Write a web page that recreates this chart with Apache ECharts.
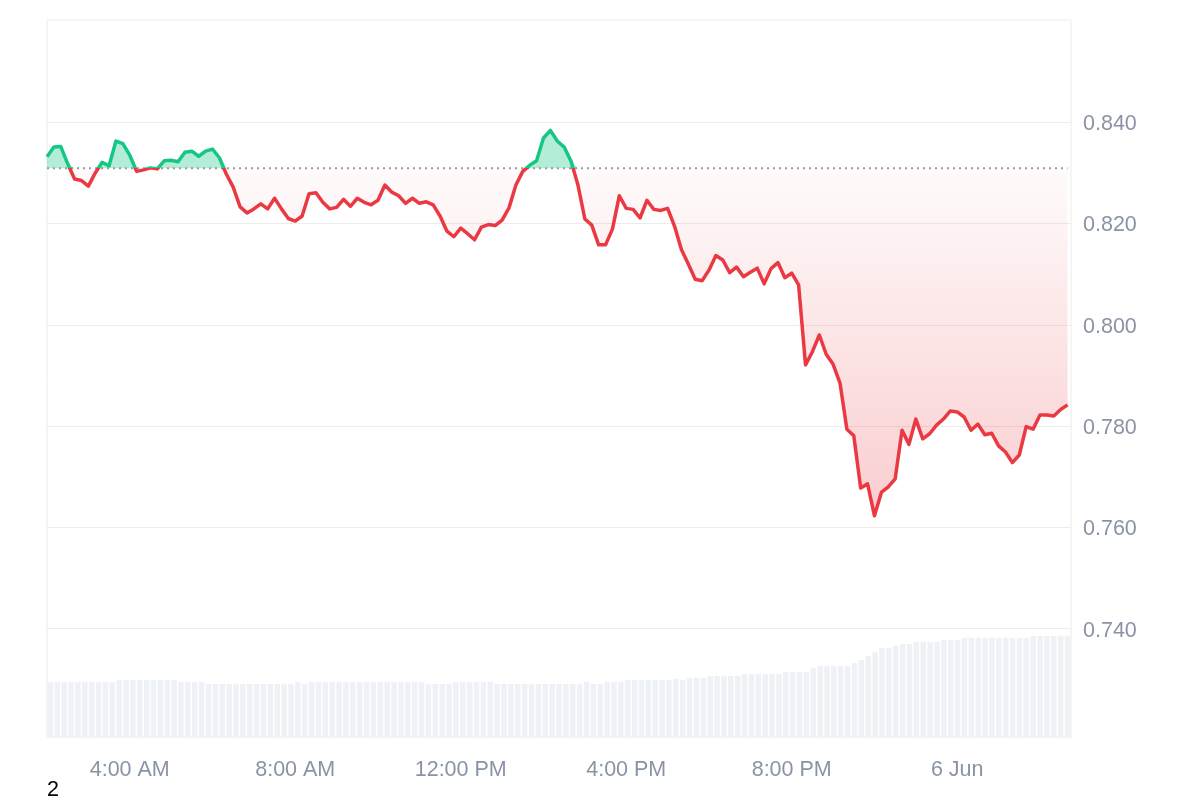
<!DOCTYPE html>
<html><head><meta charset="utf-8">
<script src="https://cdn.jsdelivr.net/npm/echarts@6/dist/echarts.min.js"></script>
<style>html,body{margin:0;padding:0;background:#fff}#c{width:1200px;height:800px}</style>
</head><body><div id="c"></div>
<script>
// time: hours since 00:00 on 5 Jun, one sample every 10 minutes starting 02:00
const startHour = 2;
const stepMinutes = 10;
const baseline = 0.8309;

const prices = [
0.8332,0.8351,0.8352,0.8318,0.8288,0.8285,0.8274,0.8300,0.8321,0.8314,
0.8363,0.8358,0.8335,0.8303,0.8306,0.8310,0.8308,0.8324,0.8325,0.8322,
0.8341,0.8343,0.8333,0.8343,0.8347,0.8330,0.8298,0.8272,0.8233,0.8221,
0.8229,0.8239,0.8229,0.8250,0.8229,0.8210,0.8205,0.8215,0.8259,0.8261,
0.8242,0.8229,0.8232,0.8248,0.8234,0.8250,0.8242,0.8237,0.8246,0.8276,
0.8262,0.8255,0.8240,0.8250,0.8240,0.8243,0.8237,0.8215,0.8185,0.8174,
0.8191,0.8180,0.8168,0.8193,0.8198,0.8196,0.8207,0.8231,0.8276,0.8303,
0.8315,0.8324,0.8369,0.8384,0.8363,0.8351,0.8323,0.8276,0.8209,0.8197,
0.8158,0.8158,0.8189,0.8255,0.8230,0.8228,0.8211,0.8246,0.8228,0.8226,
0.8230,0.8195,0.8149,0.8120,0.8090,0.8087,0.8108,0.8137,0.8128,0.8103,
0.8114,0.8095,0.8104,0.8112,0.8081,0.8111,0.8123,0.8093,0.8102,0.8079,
0.7921,0.7947,0.7980,0.7942,0.7922,0.7885,0.7794,0.7781,0.7678,0.7686,
0.7623,0.7669,0.7680,0.7696,0.7792,0.7764,0.7814,0.7775,0.7785,0.7802,
0.7814,0.7830,0.7828,0.7818,0.7792,0.7804,0.7783,0.7786,0.7761,0.7749,
0.7728,0.7743,0.7799,0.7794,0.7822,0.7822,0.7820,0.7833,0.7842
];

const volumes = [
5.5,5.5,5.5,5.5,5.5,5.5,5.5,5.5,5.5,5.5,
5.7,5.7,5.7,5.7,5.7,5.7,5.7,5.7,5.7,
5.5,5.5,5.5,5.5,
5.3,5.3,5.3,5.3,5.3,5.3,5.3,5.3,5.3,5.3,5.3,5.3,5.3,
5.5,5.3,
5.5,5.5,5.5,5.5,5.5,5.5,5.5,5.5,5.5,5.5,5.5,5.5,5.5,5.5,5.5,5.5,5.5,
5.3,5.3,5.3,5.3,
5.5,5.5,5.5,5.5,5.5,5.5,
5.3,5.3,5.3,5.3,5.3,5.3,5.3,5.3,5.3,5.3,5.3,5.3,5.3,
5.5,5.3,5.3,
5.5,5.5,5.5,
5.7,5.7,5.7,5.7,5.7,5.7,5.7,
5.8,5.7,
5.9,5.9,5.9,
6.1,6.1,6.1,6.1,6.1,
6.3,6.3,6.3,6.3,6.3,6.3,
6.5,6.5,6.5,6.5,
6.9,
7.1,7.1,7.1,7.1,7.1,
7.4,7.7,8.1,8.5,
8.9,8.9,
9.1,
9.3,9.3,
9.5,9.5,9.5,9.5,
9.7,9.7,9.7,
9.9,9.9,9.9,9.9,9.9,9.9,9.9,9.9,9.9,9.9,
10.1,10.1,10.1,10.1,10.1,10.1
];

const xTickHours = [4, 8, 12, 16, 20, 24];
const xTickLabels = ['4:00 AM', '8:00 AM', '12:00 PM', '4:00 PM', '8:00 PM', '6 Jun'];
const yMin = 0.72, yMax = 0.86, yStep = 0.02;
const xMin = 2, xMax = 26.75;

const GREEN = '#16c784', RED = '#ea3943';
const LABEL = '#8a93a6';
const GRIDC = '#ececec';
const FONT = 'Liberation Sans';
const FS = 21.5;

const hourAt = i => startHour + i * stepMinutes / 60;
const priceData = prices.map((v, i) => [hourAt(i), v]);
const upData = prices.map((v, i) => [hourAt(i), Math.max(v, baseline)]);
const downData = prices.map((v, i) => [hourAt(i), Math.min(v, baseline)]);
const volSlots = volumes.map((v, i) => String(i));
const baseData = [[hourAt(0), baseline], [hourAt(prices.length - 1), baseline]];

const chart = echarts.init(document.getElementById('c'), null, {renderer: 'canvas'});
chart.setOption({
  animation: false,
  backgroundColor: '#fff',
  textStyle: {fontFamily: FONT},
  grid: [
    {left: 47, right: 129, top: 21, bottom: 70},
    {left: 47, right: 129, top: 20, bottom: 63, show: true, borderColor: GRIDC, borderWidth: 1, backgroundColor: 'transparent'}
  ],
  xAxis: [
    {gridIndex: 0, type: 'value', min: xMin, max: xMax, show: false},
    {gridIndex: 1, type: 'value', min: xMin, max: xMax,
     axisLine: {show: false}, axisTick: {show: false}, splitLine: {show: false},
     axisLabel: {customValues: xTickHours, margin: 22, color: LABEL, fontSize: FS, fontFamily: FONT,
       formatter: v => { const k = xTickHours.indexOf(Math.round(v)); return k >= 0 ? xTickLabels[k] : ''; }}},
    {gridIndex: 1, type: 'category', data: volSlots, boundaryGap: true, show: false}
  ],
  yAxis: [
    {gridIndex: 0, type: 'value', position: 'right', min: yMin, max: yMax, interval: yStep,
     axisLine: {show: false}, axisTick: {show: false},
     splitLine: {show: true, lineStyle: {color: ['rgba(0,0,0,0)', GRIDC, GRIDC, GRIDC, GRIDC, GRIDC, GRIDC, 'rgba(0,0,0,0)'], width: 1}},
     axisLabel: {margin: 12, color: LABEL, fontSize: FS, fontFamily: FONT, verticalAlign: 'top', lineHeight: 4,
       formatter: v => (Math.abs(v - yMin) < 1e-6 || Math.abs(v - yMax) < 1e-6) ? '' : v.toFixed(3)}},
    {gridIndex: 1, type: 'value', min: 0, max: 71.6, show: false}
  ],
  series: [
    {type: 'bar', xAxisIndex: 2, yAxisIndex: 1, data: volumes, barWidth: '80%',
     itemStyle: {color: '#eef1f5'}, z: 1, silent: true},
    {type: 'line', xAxisIndex: 0, yAxisIndex: 0, data: upData, symbol: 'none',
     lineStyle: {width: 0, opacity: 0},
     areaStyle: {origin: baseline, color: 'rgba(22,199,132,0.32)', opacity: 1}, z: 2, silent: true},
    {type: 'line', xAxisIndex: 0, yAxisIndex: 0, data: downData, symbol: 'none',
     lineStyle: {width: 0, opacity: 0},
     areaStyle: {origin: baseline, opacity: 1, color: new echarts.graphic.LinearGradient(0, 0, 0, 1, [
       {offset: 0, color: 'rgba(234,57,67,0.02)'},
       {offset: 1, color: 'rgba(234,57,67,0.25)'}])}, z: 2, silent: true},
    {type: 'line', xAxisIndex: 0, yAxisIndex: 0, data: baseData, symbol: 'none', silent: true,
     lineStyle: {color: '#9a9a9a', type: [2, 4], width: 2}, z: 3},
    {type: 'line', xAxisIndex: 0, yAxisIndex: 0, data: priceData, symbol: 'none',
     lineStyle: {width: 3.5, color: RED, join: 'round'}, z: 4}
  ],
  graphic: [{type: 'text', left: 47, top: 779, style: {text: '2', fontSize: FS, fill: '#000', fontFamily: FONT}}]
});

// colour the price line green above the reference level and red below it
const yTopPx = chart.convertToPixel({yAxisIndex: 0}, yMax);
const yBotPx = chart.convertToPixel({yAxisIndex: 0}, yMin);
const yBasePx = chart.convertToPixel({yAxisIndex: 0}, baseline);
const off = (yBasePx - yTopPx) / (yBotPx - yTopPx);
chart.setOption({series: [{}, {}, {}, {}, {lineStyle: {color: new echarts.graphic.LinearGradient(0, yTopPx, 0, yBotPx, [
  {offset: 0, color: GREEN}, {offset: off, color: GREEN}, {offset: off, color: RED}, {offset: 1, color: RED}], true)}}]});
</script></body></html>
